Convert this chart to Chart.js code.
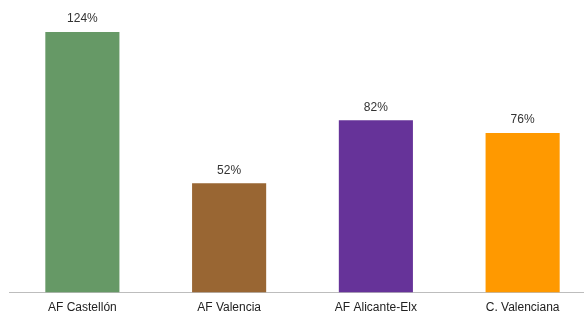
<!DOCTYPE html>
<html>
<head>
<meta charset="utf-8">
<script src="https://cdn.jsdelivr.net/npm/chart.js@4"></script>
<style>
  html, body { margin: 0; padding: 0; background: #fff; overflow: hidden; }
  #wrap { width: 596px; height: 315px; }
</style>
</head>
<body>
<div id="wrap"><canvas id="barChart"></canvas></div>
<script>
// datos
const categorias = ['AF Castellón', 'AF Valencia', 'AF Alicante-Elx', 'C. Valenciana'];
const valores = [124, 52, 82, 76];
const colores = ['#669966', '#996633', '#663399', '#ff9900'];

// etiquetas encima de cada barra
const etiquetasBarras = {
    id: 'etiquetasBarras',
    afterDatasetsDraw(chart) {
        const ctx = chart.ctx;
        const meta = chart.getDatasetMeta(0);
        ctx.save();
        ctx.font = '12px "Liberation Sans", Arial, sans-serif';
        ctx.fillStyle = '#333';
        ctx.textAlign = 'center';
        ctx.textBaseline = 'bottom';
        meta.data.forEach((bar, i) => {
            ctx.fillText(valores[i] + '%', bar.x, bar.y - 7);
        });
        ctx.restore();
    }
};

new Chart(document.getElementById('barChart'), {
    type: 'bar',
    data: {
        labels: categorias,
        datasets: [{
            data: valores,
            backgroundColor: colores,
            borderWidth: 0,
            categoryPercentage: 1,
            barPercentage: 0.505
        }]
    },
    options: {
        responsive: true,
        maintainAspectRatio: false,
        animation: false,
        layout: { padding: { left: 9, right: 0, top: 32, bottom: 0 } },
        plugins: {
            legend: { display: false },
            tooltip: { enabled: false }
        },
        scales: {
            x: {
                grid: { display: false },
                border: { display: true, color: '#bdbdbd', width: 1 },
                ticks: {
                    color: '#222',
                    padding: 0,
                    font: { family: '"Liberation Sans", Arial, sans-serif', size: 12 }
                }
            },
            y: {
                display: false,
                min: 0,
                max: 124
            }
        }
    },
    plugins: [etiquetasBarras]
});
</script>
</body>
</html>
